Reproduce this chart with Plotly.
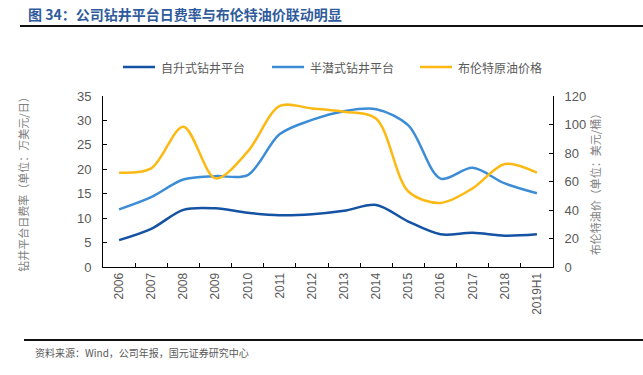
import plotly.graph_objects as go

categories = ["2006", "2007", "2008", "2009", "2010", "2011", "2012", "2013",
              "2014", "2015", "2016", "2017", "2018", "2019H1"]
jackup_rate = [5.5, 7.8, 11.7, 12.0, 11.1, 10.6, 10.8, 11.5, 12.7, 9.3, 6.7, 7.0, 6.4, 6.7]
semisub_rate = [11.8, 14.3, 17.9, 18.6, 18.8, 27.2, 30.1, 31.9, 32.3, 29.0, 18.1, 20.3, 17.1, 15.1]
brent_price = [66.2, 69.2, 98.5, 62.2, 80.9, 113.0, 111.3, 109.0, 104.0, 53.0, 45.0, 55.2, 72.3, 66.2]

left_ticks = [0, 5, 10, 15, 20, 25, 30, 35]
right_ticks = [0, 20, 40, 60, 80, 100, 120]

series_names = ["自升式钻井平台", "半潜式钻井平台", "布伦特原油价格"]
series_colors = ["#1452A3", "#3C8DD6", "#FDB913"]

CJK = "Noto Sans CJK SC"
NUM = "Liberation Sans"
GRAY = "#595959"

fig = go.Figure()
fig.add_trace(go.Scatter(x=categories, y=jackup_rate, name=series_names[0], mode="lines",
                         line=dict(color=series_colors[0], width=2.5, shape="spline", smoothing=0.9)))
fig.add_trace(go.Scatter(x=categories, y=semisub_rate, name=series_names[1], mode="lines",
                         line=dict(color=series_colors[1], width=2.5, shape="spline", smoothing=0.9)))
fig.add_trace(go.Scatter(x=categories, y=brent_price, name=series_names[2], mode="lines", yaxis="y2",
                         line=dict(color=series_colors[2], width=2.5, shape="spline", smoothing=0.9)))

L, R, T, B = 103, 553, 96, 267
W, H = R - L, B - T
def px(x): return (x - L) / W
def py(y): return (B - y) / H

annotations = [
    dict(text="<b>图 34：公司钻井平台日费率与布伦特油价联动明显</b>", xref="paper", yref="paper",
         x=px(26), y=py(14), xanchor="left", yanchor="middle", showarrow=False,
         font=dict(family=CJK, size=14, color="#2F5B9C")),
    dict(text="资料来源：Wind，公司年报，国元证券研究中心", xref="paper", yref="paper",
         x=px(33), y=py(352), xanchor="left", yanchor="middle", showarrow=False,
         font=dict(family=CJK, size=10, color=GRAY)),
]
shapes = [
    dict(type="line", xref="paper", yref="paper", x0=px(20), x1=px(643), y0=py(26), y1=py(26),
         line=dict(color="#111111", width=2)),
    dict(type="line", xref="paper", yref="paper", x0=px(24), x1=px(643), y0=py(340), y1=py(340),
         line=dict(color="#111111", width=2)),
]
legend_x = [123, 272, 420]
for lx, name, col in zip(legend_x, series_names, series_colors):
    shapes.append(dict(type="line", xref="paper", yref="paper", x0=px(lx), x1=px(lx + 32),
                       y0=py(67), y1=py(67), line=dict(color=col, width=2.5)))
    annotations.append(dict(text=name, xref="paper", yref="paper", x=px(lx + 36), y=py(67),
                            xanchor="left", yanchor="middle", showarrow=False,
                            font=dict(family=CJK, size=12, color=GRAY)))

fig.update_layout(
    width=643, height=375,
    margin=dict(l=L, r=643 - R, t=T, b=375 - B, autoexpand=False),
    paper_bgcolor="white", plot_bgcolor="white",
    showlegend=False,
    xaxis=dict(type="category", range=[-0.5, 13.5], showline=True, linecolor="black", linewidth=1,
               ticks="inside", tickson="boundaries", ticklen=4, tickcolor="black",
               tickangle=-90, tickfont=dict(family=NUM, size=12, color=GRAY),
               showgrid=False, zeroline=False, automargin=False),
    yaxis=dict(range=[0, 35], tickvals=left_ticks, showline=True, linecolor="black", linewidth=1,
               ticks="inside", ticklen=4, tickcolor="black", showgrid=False, zeroline=False,
               tickfont=dict(family=NUM, size=13, color=GRAY), ticklabelstandoff=8, automargin=False,
               title=dict(text="钻井平台日费率（单位：万美元/日）", font=dict(family=CJK, size=11, color="#7F7F7F"),
                          standoff=46)),
    yaxis2=dict(range=[0, 120], tickvals=right_ticks, overlaying="y", side="right", showline=True,
                linecolor="black", linewidth=1, ticks="inside", ticklen=4, tickcolor="black",
                showgrid=False, zeroline=False, tickfont=dict(family=NUM, size=13, color=GRAY),
                ticklabelstandoff=8, automargin=False,
                title=dict(text="布伦特油价（单位：美元/桶）", font=dict(family=CJK, size=11, color="#7F7F7F"),
                           standoff=6)),
    annotations=annotations,
    shapes=shapes,
)

fig.write_html("out.html", config={"displayModeBar": False},
               post_script="document.body.style.margin='0px';")
